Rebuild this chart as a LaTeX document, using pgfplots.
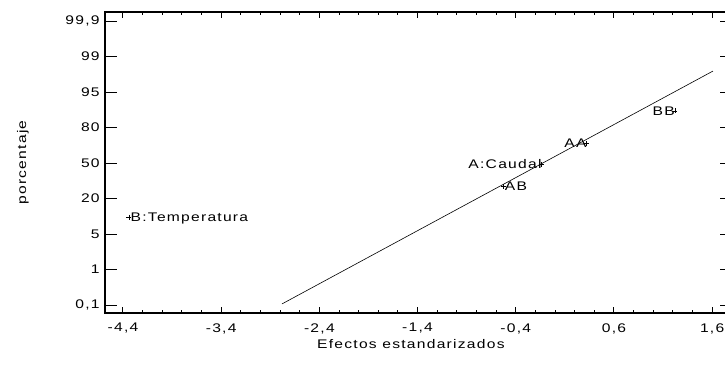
\documentclass[border=0pt]{standalone}
\usepackage{fontspec}
\setmainfont[FakeStretch=1.25, LetterSpace=10]{Liberation Sans}
\usepackage{pgfplots}
\pgfplotsset{compat=1.18}
\begin{document}
\fontsize{12.5bp}{15bp}\selectfont
\begin{tikzpicture}
\begin{axis}[
  scale only axis, width=626.8bp, height=301bp,
  xmin=-4.583, xmax=1.8, ymin=-0.225, ymax=8.254,
  /pgf/number format/assume math mode=true,
  xtick={-4.4,-3.4,-2.4,-1.4,-0.4,0.6,1.6},
  xticklabels={{-4,4},{-3,4},{-2,4},{-1,4},{-0,4},{0,6},{1,6}},
  minor x tick num=4,
  ytick={0,1,2,3,4,5,6,7,8},
  yticklabels={{0,1},1,5,20,50,80,95,99,{99,9}},
  tick align=inside,
  major tick length=12bp,
  minor tick length=3.5bp,
  xtick style={/pgfplots/major tick length=6.5bp},
  axis line style={line width=1.1bp, black},
  every tick/.style={black, line width=1bp},
  minor tick style={black, line width=1bp},
  xticklabel style={yshift=-6bp},
  yticklabel style={xshift=-1bp},
  xlabel={Efectos estandarizados},
  ylabel={porcentaje},
  every axis x label/.style={at={(axis description cs:0.488,-0.1163)}, anchor=base},
  every axis y label/.style={at={(axis description cs:-0.1308,0.5)}, rotate=90, anchor=center},
  clip=false,
]
\addplot[black, line width=0.6bp] coordinates {(-2.781,0.03) (1.608,6.59)};
\addplot[only marks, mark=+, mark size=2.5bp, black,
  point meta=explicit symbolic, nodes near coords,
  every node near coord/.style={anchor=base west, inner sep=0pt, xshift=1.5bp, yshift=-4.5bp, black}]
  table[meta=label] {
x y label
-4.339 2.479 B:Temperatura
-0.527 3.35 AB
};
\addplot[only marks, mark=+, mark size=2.5bp, black,
  point meta=explicit symbolic, nodes near coords,
  every node near coord/.style={anchor=base east, inner sep=0pt, xshift=0bp, yshift=-4.5bp, black}]
  table[meta=label] {
x y label
-0.136 3.96 A:Caudal
0.322 4.555 AA
1.221 5.47 BB
};
\end{axis}
\pgfresetboundingbox
\useasboundingbox (-105bp,-53bp) rectangle (620bp,313bp);
\end{tikzpicture}
\end{document}
